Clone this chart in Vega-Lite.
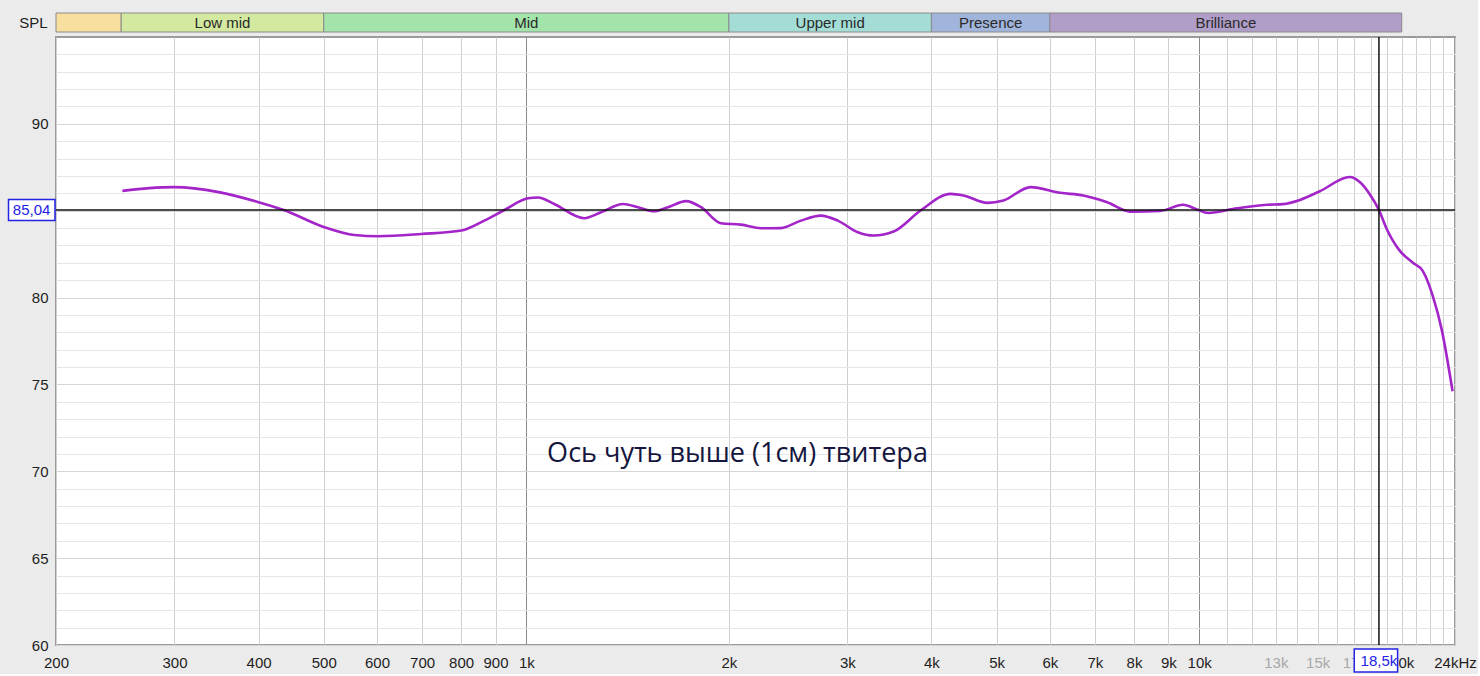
{
  "$schema": "https://vega.github.io/schema/vega-lite/v6.json",
  "background": "#ebebeb",
  "padding": {"left": 6, "top": 12, "right": 0, "bottom": 0},
  "spacing": 2,
  "config": {
    "font": "Liberation Sans",
    "axis": {"labelFont": "Liberation Sans", "labelFontSize": 15, "labelColor": "#1e1e1e", "ticks": false, "domain": false}
  },
  "datasets": {
    "bands": [
      {"name": "", "start": 200, "end": 250, "row": "SPL"},
      {"name": "Low mid", "start": 250, "end": 500, "row": "SPL"},
      {"name": "Mid", "start": 500, "end": 2000, "row": "SPL"},
      {"name": "Upper mid", "start": 2000, "end": 4000, "row": "SPL"},
      {"name": "Presence", "start": 4000, "end": 6000, "row": "SPL"},
      {"name": "Brilliance", "start": 6000, "end": 20000, "row": "SPL"}
    ],
    "response": [
      {"freq": 251, "spl": 86.14}, {"freq": 275, "spl": 86.3}, {"freq": 300, "spl": 86.36},
      {"freq": 349, "spl": 86.07}, {"freq": 400, "spl": 85.49}, {"freq": 436, "spl": 85.04},
      {"freq": 501, "spl": 84.05}, {"freq": 555, "spl": 83.6}, {"freq": 603, "spl": 83.53},
      {"freq": 698, "spl": 83.66}, {"freq": 801, "spl": 83.86}, {"freq": 866, "spl": 84.43},
      {"freq": 928, "spl": 85.04}, {"freq": 1006, "spl": 85.72}, {"freq": 1041, "spl": 85.76},
      {"freq": 1100, "spl": 85.39}, {"freq": 1219, "spl": 84.57}, {"freq": 1291, "spl": 84.91},
      {"freq": 1392, "spl": 85.39}, {"freq": 1466, "spl": 85.2}, {"freq": 1548, "spl": 84.97},
      {"freq": 1624, "spl": 85.2}, {"freq": 1727, "spl": 85.55}, {"freq": 1818, "spl": 85.2},
      {"freq": 1946, "spl": 84.28}, {"freq": 2084, "spl": 84.2}, {"freq": 2232, "spl": 83.99},
      {"freq": 2390, "spl": 84.0}, {"freq": 2559, "spl": 84.43}, {"freq": 2740, "spl": 84.72},
      {"freq": 2903, "spl": 84.43}, {"freq": 3109, "spl": 83.76}, {"freq": 3282, "spl": 83.57},
      {"freq": 3515, "spl": 83.8}, {"freq": 3854, "spl": 85.01}, {"freq": 4271, "spl": 85.97},
      {"freq": 4464, "spl": 85.88}, {"freq": 4846, "spl": 85.45}, {"freq": 5118, "spl": 85.59},
      {"freq": 5614, "spl": 86.36}, {"freq": 6219, "spl": 86.03}, {"freq": 6726, "spl": 85.88},
      {"freq": 7300, "spl": 85.49}, {"freq": 7898, "spl": 84.95}, {"freq": 8750, "spl": 84.99},
      {"freq": 9465, "spl": 85.34}, {"freq": 9927, "spl": 85.07}, {"freq": 10310, "spl": 84.87},
      {"freq": 11385, "spl": 85.14}, {"freq": 12610, "spl": 85.34}, {"freq": 13318, "spl": 85.38},
      {"freq": 14118, "spl": 85.62}, {"freq": 15112, "spl": 86.12}, {"freq": 16742, "spl": 86.94},
      {"freq": 17326, "spl": 86.65}, {"freq": 17928, "spl": 85.95}, {"freq": 18500, "spl": 85.04},
      {"freq": 19000, "spl": 83.95}, {"freq": 19862, "spl": 82.7}, {"freq": 20760, "spl": 82.02},
      {"freq": 21490, "spl": 81.54}, {"freq": 22240, "spl": 80.1}, {"freq": 22930, "spl": 78.17},
      {"freq": 23800, "spl": 74.61}
    ],
    "cursor": [
      {"freq": 18500, "spl": 85.04, "freqLabel": "18,5k", "splLabel": "85,04"}
    ],
    "note": [
      {"freq": 2060, "spl": 71, "text": "Ось чуть выше (1см) твитера"}
    ]
  },
  "vconcat": [
    {
      "width": 1399,
      "height": 19,
      "data": {"name": "bands"},
      "view": {"stroke": null},
      "layer": [
        {
          "mark": {"type": "rect", "stroke": "#8a8a8a", "strokeWidth": 1},
          "encoding": {
            "x": {"field": "start", "type": "quantitative", "scale": {"type": "log", "domain": [200, 24000], "nice": false}, "axis": null},
            "x2": {"field": "end"},
            "y": {"field": "row", "type": "nominal", "scale": {"paddingInner": 0, "paddingOuter": 0},
                  "axis": {"title": null, "labelPadding": 9, "labelFontSize": 15}},
            "fill": {"field": "name", "type": "nominal", "legend": null,
                     "scale": {"domain": ["", "Low mid", "Mid", "Upper mid", "Presence", "Brilliance"],
                               "range": ["#f8dfa0", "#d3e9a0", "#a2e4aa", "#a3ddd5", "#a1b5dc", "#b09dc8"]}}
          }
        },
        {
          "transform": [{"calculate": "sqrt(datum.start * datum.end)", "as": "centre"}],
          "mark": {"type": "text", "fontSize": 15, "color": "#2a2a2a"},
          "encoding": {
            "x": {"field": "centre", "type": "quantitative"},
            "y": {"field": "row", "type": "nominal"},
            "text": {"field": "name"}
          }
        }
      ]
    },
    {
      "width": 1399,
      "height": 608,
      "view": {"stroke": "#9a9a9a", "strokeWidth": 2, "fill": "#ffffff"},
      "layer": [
        {
          "data": {"name": "response"},
          "mark": {"type": "line", "color": "#a324c8", "strokeWidth": 2.6, "interpolate": "monotone"},
          "encoding": {
            "x": {
              "field": "freq", "type": "quantitative",
              "scale": {"type": "log", "domain": [200, 24000], "nice": false},
              "axis": {
                "title": null,
                "tickCount": 100,
                "values": [200, 300, 400, 500, 600, 700, 800, 900, 1000, 2000, 3000, 4000, 5000, 6000, 7000, 8000, 9000, 10000, 11000, 12000, 13000, 14000, 15000, 16000, 17000, 18000, 19000, 20000, 21000, 22000, 23000, 24000],
                "labelExpr": "datum.value == 24000 ? '24kHz' : (indexof([11000, 12000, 14000, 16000, 18000, 19000, 21000, 22000, 23000], datum.value) >= 0 ? '' : (datum.value >= 1000 ? (datum.value / 1000) + 'k' : datum.value + ''))",
                "labelColor": {"condition": {"test": "datum.value == 13000 || datum.value == 15000 || datum.value == 17000", "value": "#a8a8a8"}, "value": "#1e1e1e"},
                "gridColor": {"condition": {"test": "datum.value == 1000 || datum.value == 10000", "value": "#8a8a8a"}, "value": "#cfcfcf"},
                "labelOverlap": false,
                "labelFlush": false,
                "labelPadding": 10,
                "grid": true
              }
            },
            "y": {
              "field": "spl", "type": "quantitative",
              "scale": {"domain": [60, 95], "nice": false, "zero": false},
              "axis": {
                "title": null,
                "tickCount": 100,
                "values": [60, 61, 62, 63, 64, 65, 66, 67, 68, 69, 70, 71, 72, 73, 74, 75, 76, 77, 78, 79, 80, 81, 82, 83, 84, 85, 86, 87, 88, 89, 90, 91, 92, 93, 94],
                "labelExpr": "datum.value % 5 == 0 && datum.value != 85 ? datum.value + '' : ''",
                "gridColor": {"condition": {"test": "datum.value % 5 == 0", "value": "#d6d6d6"}, "value": "#e6e6e6"},
                "labelOverlap": false,
                "labelFlush": false,
                "labelPadding": 8,
                "grid": true
              }
            }
          }
        },
        {
          "data": {"name": "cursor"},
          "mark": {"type": "rule", "color": "#111111", "strokeWidth": 1.5},
          "encoding": {"x": {"field": "freq", "type": "quantitative"}}
        },
        {
          "data": {"name": "cursor"},
          "mark": {"type": "rule", "color": "#111111", "strokeWidth": 1.5},
          "encoding": {"y": {"field": "spl", "type": "quantitative"}}
        },
        {
          "data": {"name": "note"},
          "mark": {"type": "text", "font": "Open Sans", "fontSize": 27, "color": "#15153d", "align": "center", "baseline": "middle"},
          "encoding": {
            "x": {"field": "freq", "type": "quantitative"},
            "y": {"field": "spl", "type": "quantitative"},
            "text": {"field": "text"}
          }
        },
        {
          "data": {"name": "cursor"},
          "mark": {"type": "rect", "fill": "#ffffff", "stroke": "#2323e6", "strokeWidth": 1.5, "clip": false},
          "encoding": {
            "x": {"datum": 170},
            "x2": {"datum": 199.3},
            "y": {"datum": 85.64},
            "y2": {"datum": 84.44}
          }
        },
        {
          "data": {"name": "cursor"},
          "mark": {"type": "text", "fontSize": 15, "color": "#2323e6", "align": "center", "baseline": "middle", "clip": false},
          "encoding": {
            "x": {"datum": 184},
            "y": {"field": "spl", "type": "quantitative"},
            "text": {"field": "splLabel"}
          }
        },
        {
          "data": {"name": "cursor"},
          "mark": {"type": "rect", "fill": "#ffffff", "stroke": "#2323e6", "strokeWidth": 1.5, "clip": false},
          "encoding": {
            "x": {"datum": 17000},
            "x2": {"datum": 19720},
            "y": {"datum": 59.77},
            "y2": {"datum": 58.45}
          }
        },
        {
          "data": {"name": "cursor"},
          "mark": {"type": "text", "fontSize": 15, "color": "#2323e6", "align": "center", "baseline": "middle", "clip": false},
          "encoding": {
            "x": {"field": "freq", "type": "quantitative"},
            "y": {"datum": 59.1},
            "text": {"field": "freqLabel"}
          }
        }
      ]
    }
  ]
}
